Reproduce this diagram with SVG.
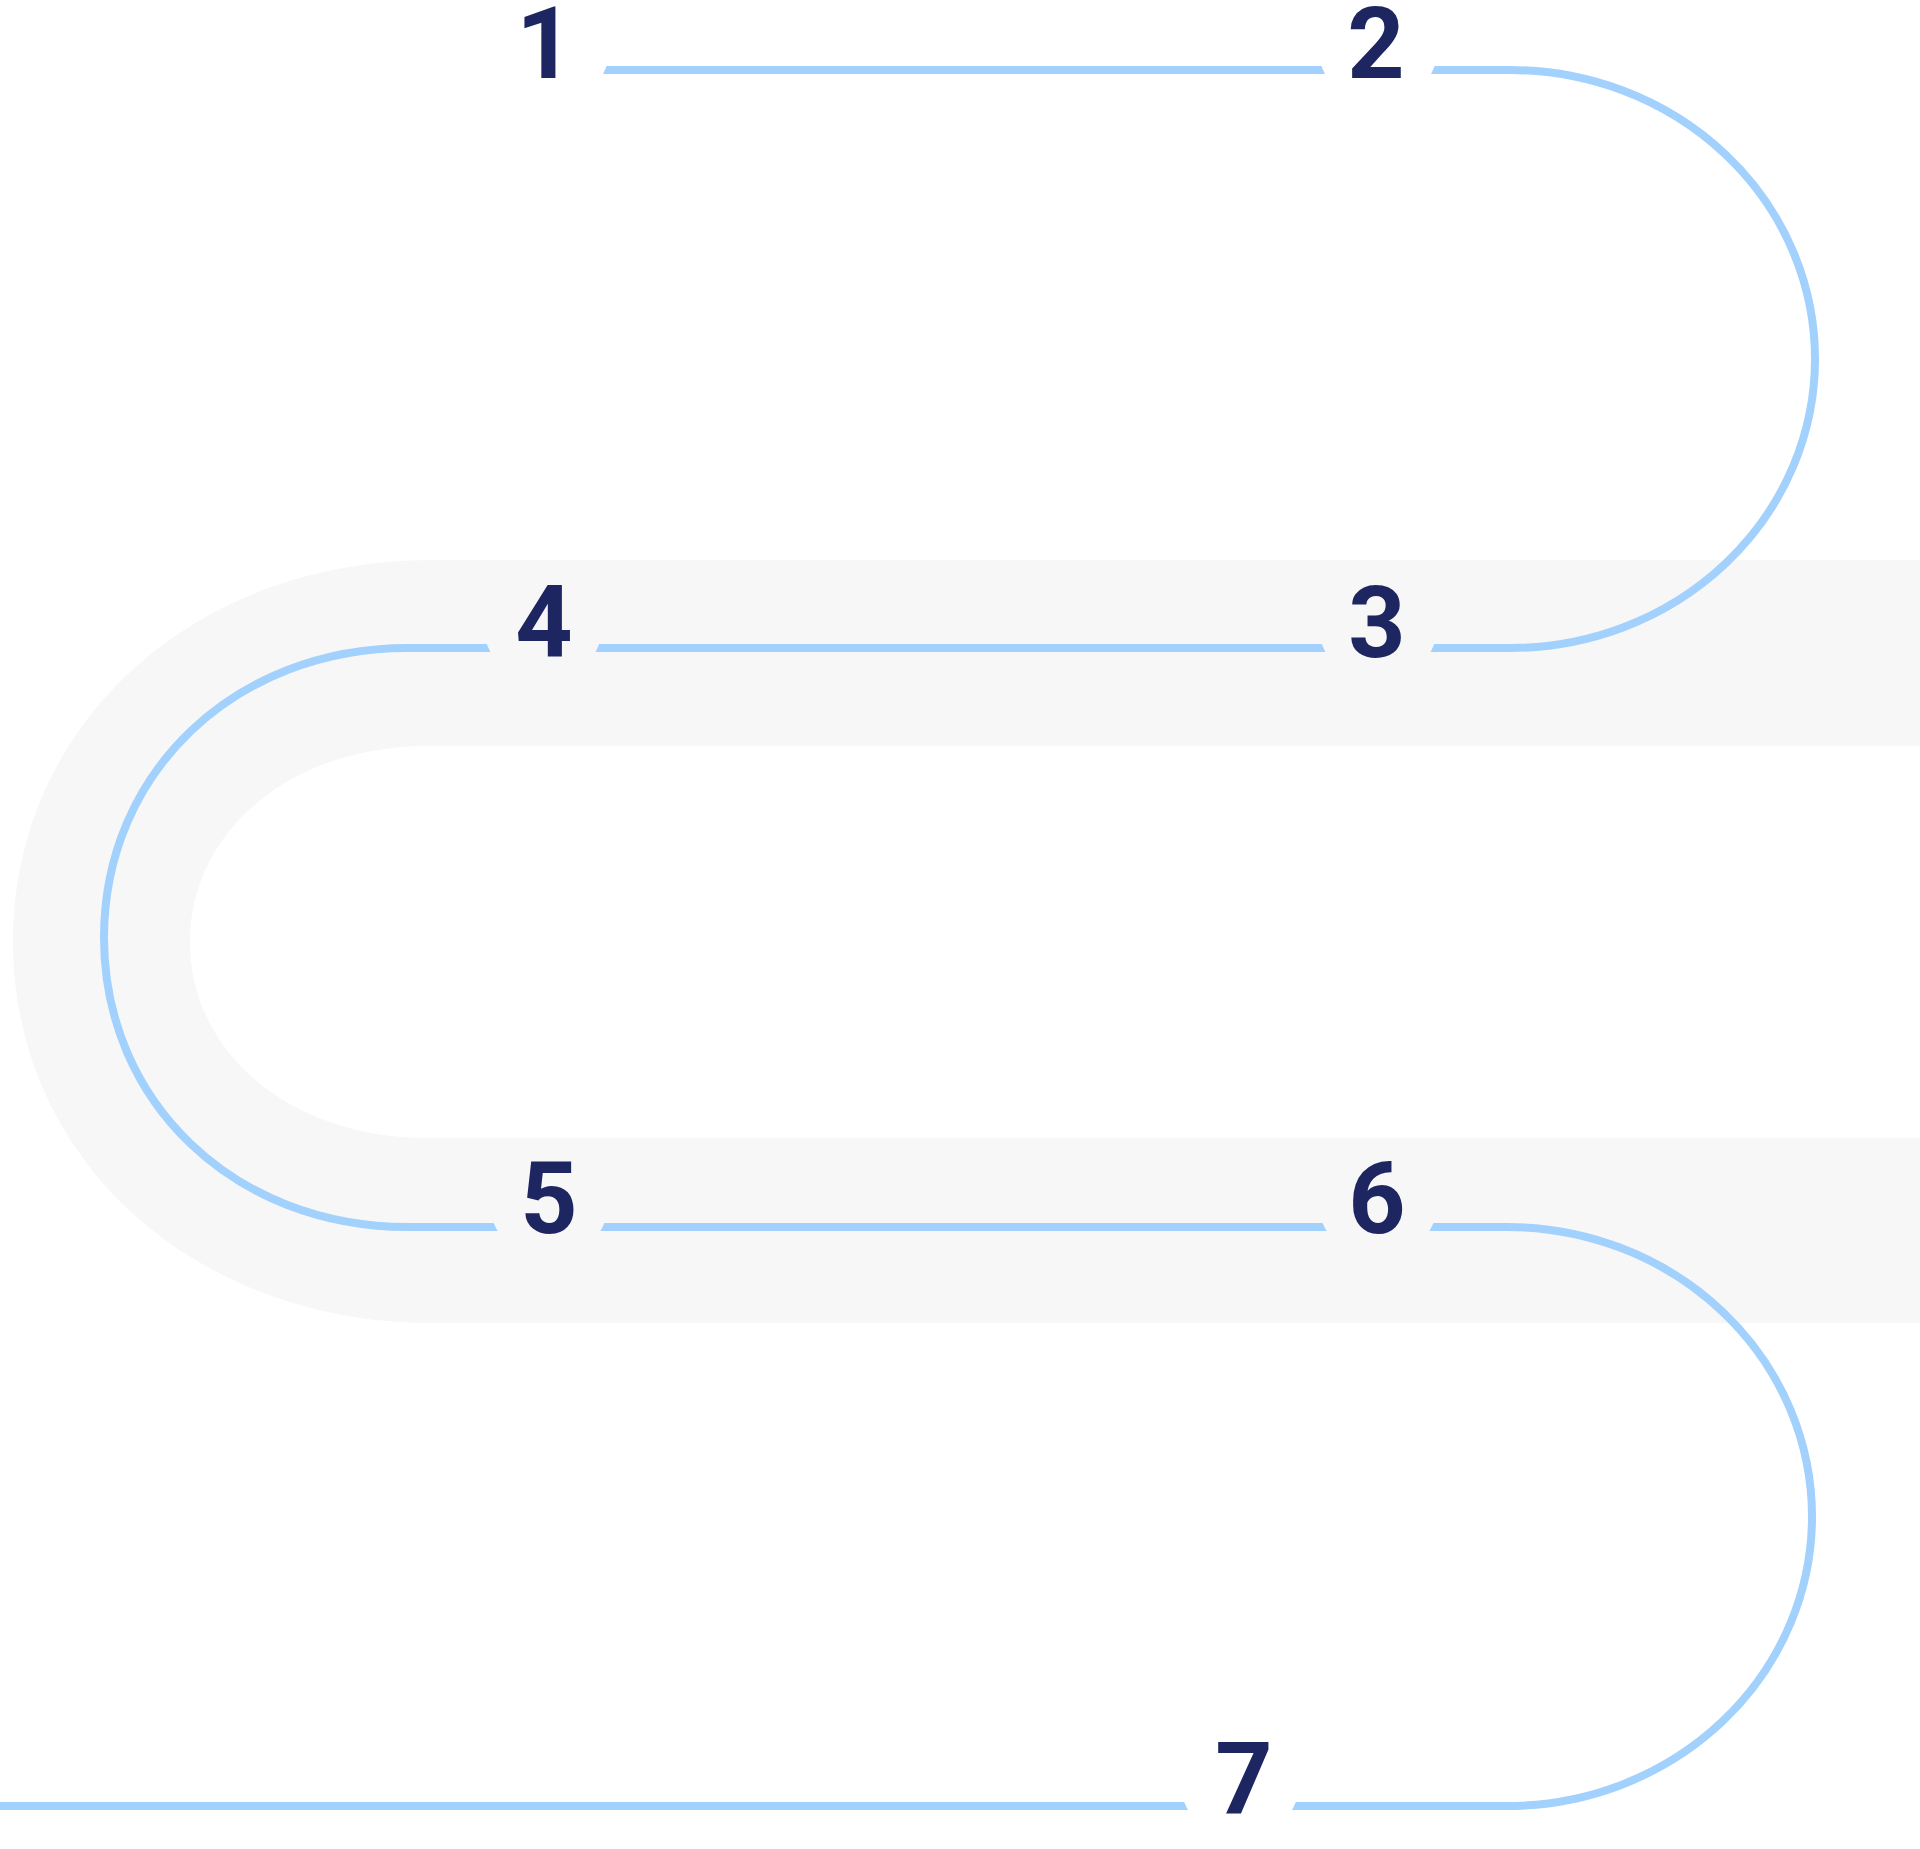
<svg xmlns="http://www.w3.org/2000/svg" width="1920" height="1849" viewBox="0 0 1920 1849">
  <style>
    .num { font-family: Roboto, "Liberation Sans", Arial, sans-serif; font-weight: 700; font-size: 100px; fill: #1d2660; text-anchor: middle; }
    .route { fill: none; stroke: #a2d1fd; stroke-width: 8; }
  </style>
  <defs>
    <mask id="gaps" maskUnits="userSpaceOnUse" x="0" y="0" width="1920" height="1849">
      <rect x="0" y="0" width="1920" height="1849" fill="#fff"/>
      <circle cx="550" cy="46" r="60" fill="#000"/>
      <circle cx="1378" cy="46" r="60" fill="#000"/>
      <circle cx="543" cy="623" r="60" fill="#000"/>
      <circle cx="1378" cy="623" r="60" fill="#000"/>
      <circle cx="549" cy="1200" r="60" fill="#000"/>
      <circle cx="1378" cy="1200" r="60" fill="#000"/>
      <circle cx="1240" cy="1780" r="60" fill="#000"/>
    </mask>
  </defs>
  <rect x="0" y="0" width="1920" height="1849" fill="#ffffff"/>
  <path id="band" d="M1920,560 H433 C193.6,560 13,724 13,941.5 C13,1159 193.6,1323 433,1323 H1920 V1138 H427 C291.9,1138 190,1053.7 190,942 C190,830.3 291.9,746 427,746 H1920 Z" fill="#f7f7f7"/>
  <g id="connectors">
    <path class="route" mask="url(#gaps)" d="M550,70 H1510 A305,289 0 0 1 1510,648 H408 C234.7,648 104,772.5 104,937.5 C104,1102.5 234.7,1227 408,1227 H1507 A305,289.5 0 0 1 1507,1806 H0"/>
  </g>
  <g id="node-1"><text class="num" x="545" y="78">1</text></g>
  <g id="node-2"><text class="num" x="1376" y="78">2</text></g>
  <g id="node-3"><text class="num" x="1377" y="657">3</text></g>
  <g id="node-4"><text class="num" x="544" y="657">4</text></g>
  <g id="node-5"><text class="num" x="549" y="1233">5</text></g>
  <g id="node-6"><text class="num" x="1377" y="1233">6</text></g>
  <g id="node-7"><text class="num" x="1244" y="1813">7</text></g>
</svg>
